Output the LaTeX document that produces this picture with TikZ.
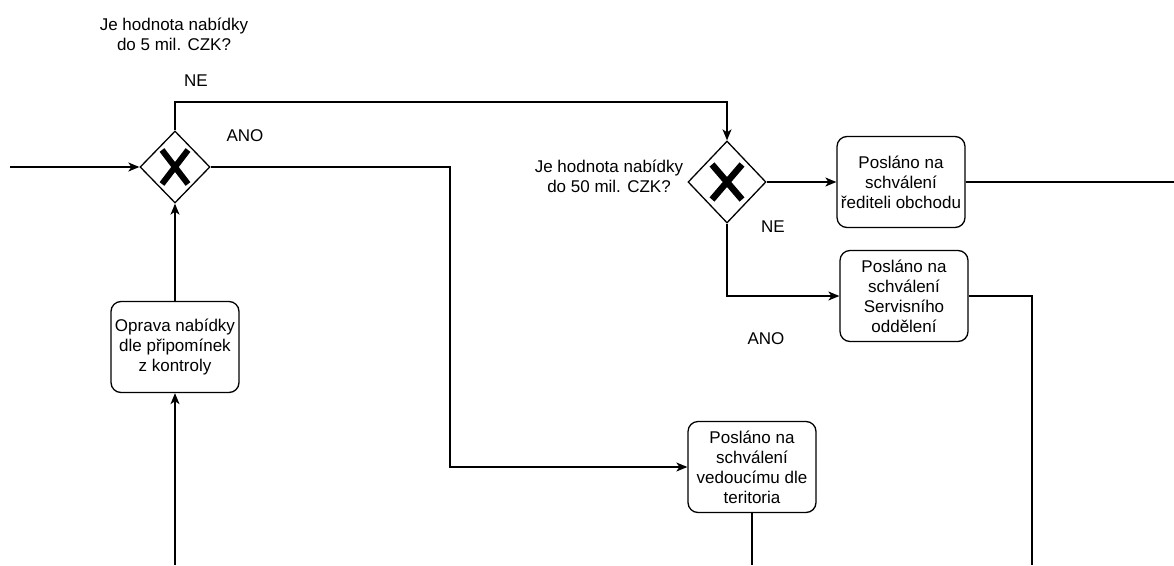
\documentclass[tikz,border=0pt]{standalone}
\usepackage{fontspec}
\setmainfont{Liberation Sans}
\usetikzlibrary{arrows.meta,positioning,shapes.geometric}
\tikzset{
  task/.style={rectangle, rounded corners=10pt, draw=black, line width=1.3pt,
    align=center, inner sep=2pt, minimum width=128pt, minimum height=91pt,
    font=\fontsize{17}{20}\selectfont},
  gate/.style={diamond, draw=black, line width=1.3pt, inner sep=0pt,
    minimum width=70pt, minimum height=72pt,
    path picture={\draw[line width=6pt]
      (path picture bounding box.center) ++(-13pt,-17pt) -- ++(26pt,34pt)
      (path picture bounding box.center) ++(-13pt,17pt) -- ++(26pt,-34pt);}},
  bigate/.style={gate, minimum width=78pt, minimum height=82pt,
    path picture={\draw[line width=6.5pt]
      (path picture bounding box.center) ++(-15pt,-17.5pt) -- ++(30pt,35pt)
      (path picture bounding box.center) ++(-15pt,17.5pt) -- ++(30pt,-35pt);}},
  txt/.style={align=center, inner sep=0pt, font=\fontsize{17}{20}\selectfont},
  flow/.style={-{Stealth[length=11pt, width=9pt, inset=3pt]}, line width=1.3pt, draw=black},
  wire/.style={line width=1.3pt, draw=black},
}

\begin{document}
\begin{tikzpicture}[x=1pt, y=-1pt]
  \useasboundingbox (0,0) rectangle (1174,565);
  % gateways
  \node[gate] (g1) at (175,167) {};
  \node[bigate] (g2) at (727,182) {};
  \node[txt] (q1) at (174,34) {Je hodnota nabídky\\do 5 mil. CZK?};
  \node[txt] (q2) at (609,176) {Je hodnota nabídky\\do 50 mil. CZK?};
  \node[txt] (ne1) at (196,81) {NE};
  \node[txt] (ano1) at (245,136) {ANO};
  \node[txt] (ne2) at (773,227) {NE};
  \node[txt] (ano2) at (766,339) {ANO};
  % tasks
  \node[task] (opr) at (175,347) {Oprava nabídky\\dle připomínek\\z kontroly};
  \node[task] (red) at (901,182) {Posláno na\\schválení\\řediteli obchodu};
  \node[task] (serv) at (904,296) {Posláno na\\schválení\\Servisního\\oddělení};
  \node[task] (ved) at (752,467) {Posláno na\\schválení\\vedoucímu dle\\teritoria};
  % free ends and bends
  \coordinate (in1) at (10,167);
  \coordinate (inopr) at (175,565);
  \coordinate (top1) at (175,102);
  \coordinate (bend1) at (450,167);
  \coordinate (outred) at (1174,182);
  \coordinate (outserv) at (1032,565);
  % connectors
  \draw[flow] (in1) -- (g1.west);
  \draw[flow] (inopr) -- (opr.south);
  \draw[flow] (opr.north) -- (g1.south);
  \draw[flow] (g1.north) -- (top1) -| (g2.north);
  \draw[flow] (g1.east) -- (bend1) |- (ved.west);
  \draw[flow] (g2.east) -- (red.west);
  \draw[flow] (g2.south) |- (serv.west);
  \draw[wire] (red.east) -- (outred);
  \draw[wire] (serv.east) -| (outserv);
  \draw[wire] (ved.south) -- (ved.south |- inopr);
\end{tikzpicture}
\end{document}
